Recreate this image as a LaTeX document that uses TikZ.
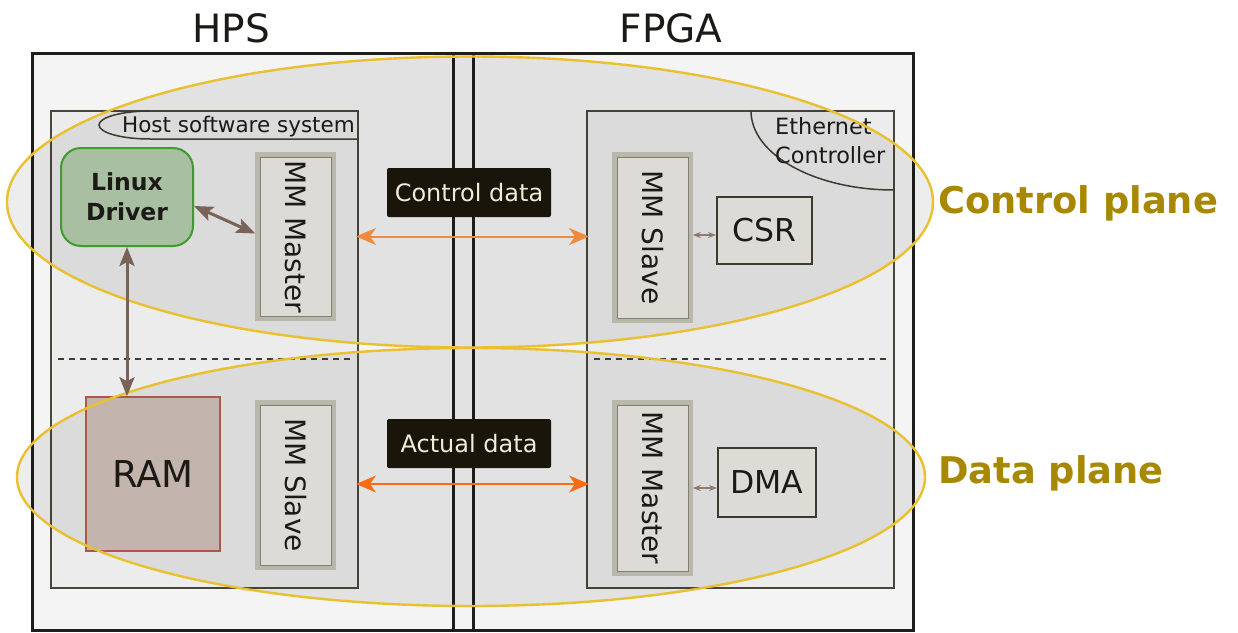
\documentclass[tikz,border=0pt]{standalone}
\usepackage{fontspec}
\setmainfont{DejaVu Sans}
\usetikzlibrary{arrows.meta,shapes.geometric}

\definecolor{chipfill}{HTML}{F4F4F4}
\definecolor{chipline}{HTML}{1E1E1A}
\definecolor{blockfill}{HTML}{ECECEC}
\definecolor{blockline}{HTML}{4A463E}
\definecolor{planeline}{HTML}{E8C030}
\definecolor{planetext}{HTML}{A88800}
\definecolor{portfill}{HTML}{DDDBD6}
\definecolor{portline}{HTML}{B9B6AA}
\definecolor{regline}{HTML}{3E3A30}
\definecolor{drvfill}{HTML}{A9BFA1}
\definecolor{drvline}{HTML}{3E9B2E}
\definecolor{ramfill}{HTML}{C4B4AE}
\definecolor{ramline}{HTML}{B0554A}
\definecolor{linkbrown}{HTML}{7A6258}
\definecolor{ctrlorange}{HTML}{F28A3C}
\definecolor{dataorange}{HTML}{FA6C14}
\definecolor{tagfill}{HTML}{19150A}
\definecolor{tagtext}{HTML}{F0ECD8}
\definecolor{ink}{HTML}{1C1A16}

\newcommand{\fs}[2]{\fontsize{#1}{#2}\selectfont}

\begin{document}
\begin{tikzpicture}[x=1pt,y=-1pt,
  block/.style={draw=blockline, fill=blockfill, line width=2pt, inner sep=0pt},
  port/.style={draw=portline, fill=portfill, line width=4.5pt, inner sep=0pt,
    minimum width=76pt},
  portrim/.style={draw=portline!70!black, line width=0.6pt, inner sep=0pt,
    minimum width=71pt},
  portlabel/.style={rotate=-90, text=ink, font=\fs{28}{32}},
  reg/.style={draw=regline, fill=portfill, line width=2pt, inner sep=0pt, text=ink},
  tag/.style={fill=tagfill, text=tagtext, rounded corners=2pt, inner sep=0pt,
    minimum width=164pt, minimum height=49pt, font=\fs{24}{28}},
  plane/.style={ellipse, inner sep=0pt},
  planefill/.style={plane, fill=black, fill opacity=0.07},
  planeedge/.style={plane, draw=planeline, line width=2.4pt},
  planename/.style={text=planetext, font=\bfseries\fs{36.8}{40}, anchor=base west, inner sep=0pt},
  brownlink/.style={draw=linkbrown, line width=3pt,
    {Stealth[length=19pt,width=15pt,inset=4pt]}-{Stealth[length=19pt,width=15pt,inset=4pt]}},
  smalllink/.style={draw=linkbrown!85!white, line width=2pt,
    {Stealth[length=8pt,width=6pt]}-{Stealth[length=8pt,width=6pt]}},
  buslink/.style={line width=2pt, shorten <=-3pt, shorten >=-3pt},
  dashsep/.style={draw=ink!85, line width=2.4pt, dash pattern=on 6pt off 5pt},
  thinline/.style={draw=regline, line width=1.5pt}
]
\useasboundingbox (0,0) rectangle (1238,632);

% chip outline and the HPS/FPGA split
\node[draw=chipline, fill=chipfill, line width=3pt, minimum width=881pt,
      minimum height=577pt, inner sep=0pt] (chip) at (472.5,341.5) {};
\draw[chipline, line width=3pt] (453,53) -- (453,630);
\draw[chipline, line width=3pt] (473,53) -- (473,630);

\node[text=ink, font=\fs{39}{44}] (hpslbl) at (231,28) {HPS};
\node[text=ink, font=\fs{39}{44}] (fpgalbl) at (671,28) {FPGA};

% subsystem blocks
\node[block, minimum width=307pt, minimum height=477pt] (hps) at (204.5,349.5) {};
\node[block, minimum width=307pt, minimum height=477pt] (fpga) at (740.5,349.5) {};

% plane shading
\node[planefill, minimum width=926pt, minimum height=291pt] (ctrlshade) at (470,202) {};
\node[planefill, minimum width=908pt, minimum height=258pt] (datashade) at (471,477) {};

% dashed separators between control and data halves
\draw[dashsep] (58,359) -- (350,359);
\draw[dashsep] (594,359) -- (888,359);

% subsystem captions
\draw[thinline] (358,139) -- (150,139) arc[start angle=90, end angle=270, x radius=51pt, y radius=-14pt];
\node[text=ink, font=\fs{21.5}{24}, anchor=base, inner sep=0pt] (hostlbl) at (238.5,132) {Host software system};
\draw[thinline] (751,111) arc[start angle=180, end angle=270, x radius=143pt, y radius=79pt];
\node[text=ink, font=\fs{22.4}{29}, align=left, anchor=north west, inner sep=0pt] (ethlbl) at (775,117) {Ethernet\\Controller};

% components
\node[draw=drvline, fill=drvfill, line width=2pt, rounded corners=20pt, inner sep=0pt,
      minimum width=132pt, minimum height=98pt, align=center, text=ink,
      font=\bfseries\fs{23.5}{30}] (drv) at (127,197) {Linux\\Driver};
\node[draw=ramline, fill=ramfill, line width=1.6pt, inner sep=0pt, minimum width=134pt,
      minimum height=154pt, text=ink, font=\fs{37}{40}] (ram) at (153,474) {RAM};

\node[port, minimum height=164pt] (hpsmaster) at (295.5,236.5) {};
\node[portrim, minimum height=159pt, label={[portlabel]center:MM Master}] at (hpsmaster.center) {};
\node[port, minimum height=166pt] (fpgaslave) at (652.5,237.5) {};
\node[portrim, minimum height=161pt, label={[portlabel]center:MM Slave}] at (fpgaslave.center) {};
\node[port, minimum height=165pt] (hpsslave) at (295.5,485) {};
\node[portrim, minimum height=160pt, label={[portlabel]center:MM Slave}] at (hpsslave.center) {};
\node[port, minimum height=171pt] (fpgamaster) at (652.5,488) {};
\node[portrim, minimum height=166pt, label={[portlabel]center:MM Master}] at (fpgamaster.center) {};

\node[reg, minimum width=95pt, minimum height=67pt, font=\fs{31.5}{34}] (csr) at (764.5,230.5) {CSR};
\node[reg, minimum width=98pt, minimum height=69pt, font=\fs{31.5}{34}] (dma) at (767,482.5) {DMA};

% plane outlines
\node[planeedge, minimum width=926pt, minimum height=291pt] (ctrlplane) at (470,202) {};
\node[planeedge, minimum width=908pt, minimum height=258pt] (dataplane) at (471,477) {};
\node[planename] (ctrlname) at (938,213) {Control plane};
\node[planename] (dataname) at (938,483) {Data plane};

% connections
\draw[brownlink] ([yshift=-9pt]drv.east) -- ([yshift=3pt]hpsmaster.west);
\draw[brownlink] (drv.south) -- (drv.south |- ram.north);
\draw[smalllink] ([yshift=2.5pt]fpgaslave.east) -- ([yshift=2.5pt]fpgaslave.east -| csr.west);
\draw[smalllink] (fpgamaster.east) -- (fpgamaster.east -| dma.west);

\draw[buslink, draw=ctrlorange,
  {Stealth[length=20pt,width=17pt,inset=6pt,fill=ctrlorange]}-{Stealth[length=20pt,width=17pt,inset=6pt,fill=ctrlorange]}]
  (hps.east |- hpsmaster.east) -- (fpga.west |- hpsmaster.east);
\draw[buslink, draw=dataorange,
  {Stealth[length=20pt,width=17pt,inset=6pt,fill=dataorange]}-{Stealth[length=20pt,width=17pt,inset=6pt,fill=dataorange]}]
  ([yshift=1pt]hps.east |- hpsslave.east) -- ([yshift=1pt]fpga.west |- hpsslave.east);

\node[tag] (ctrltag) at (469,192.5) {Control data};
\node[tag] (datatag) at (469,443.5) {Actual data};
\end{tikzpicture}
\end{document}
